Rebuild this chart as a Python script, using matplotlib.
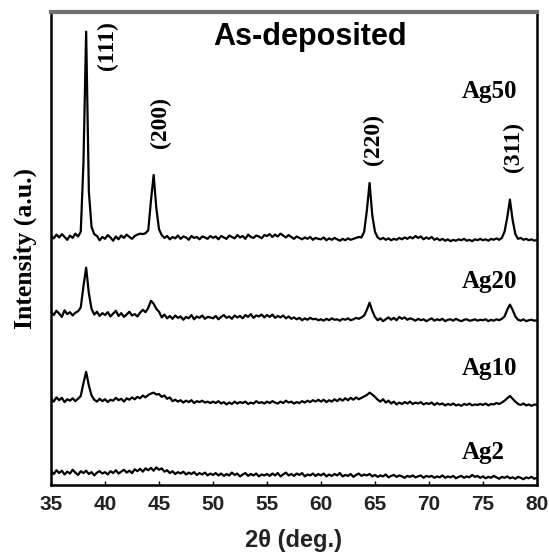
import numpy as np
import matplotlib
matplotlib.use('Agg')
from matplotlib import pyplot

# 2-theta grid, 0.25 deg steps from 35 to 80
two_theta = np.arange(35.0, 80.001, 0.25)

ag50 = [
    52.6, 52.1, 52.9, 52.3, 53.0, 52.4, 51.8, 52.7, 52.2, 53.1, 52.5, 53.5, 68.0, 95.8, 62.0, 54.5, 53.0, 52.6, 51.7, 52.4,
    52.0, 52.8, 52.3, 51.6, 52.5, 51.9, 52.7, 52.2, 52.9, 52.4, 52.0, 52.6, 52.9, 53.1, 53.0, 53.2, 53.8, 60.0, 65.5, 58.5,
    54.0, 52.8, 52.2, 52.6, 51.9, 52.4, 52.1, 52.7, 52.0, 52.5, 52.3, 51.8, 52.6, 52.2, 52.4, 51.9, 52.5, 52.3, 52.0, 52.6,
    52.2, 52.5, 51.9, 52.6, 52.3, 52.0, 52.7, 52.4, 52.1, 52.8, 52.3, 52.6, 52.0, 52.9, 52.4, 52.2, 52.7, 52.5, 52.1, 52.8,
    52.6, 53.0, 52.4, 52.9, 52.5, 53.1, 52.7, 52.3, 52.8, 52.4, 52.0, 52.5, 52.2, 51.9, 52.3, 52.0, 52.4, 51.8, 52.2, 52.0,
    51.9, 52.3, 51.7, 52.1, 51.8, 52.2, 51.9, 51.6, 52.0, 51.7, 52.1, 51.8, 52.0, 52.2, 52.4, 52.3, 53.5, 58.0, 63.8, 57.0,
    53.5, 52.3, 51.9, 52.2, 51.8, 52.1, 51.7, 52.0, 51.8, 52.2, 51.9, 52.3, 52.0, 52.4, 52.1, 52.6, 52.2, 52.5, 51.9, 52.3,
    52.0, 52.4, 51.8, 52.1, 51.7, 52.0, 51.6, 51.9, 51.5, 51.8, 51.6, 51.9, 51.7, 52.0, 51.6, 51.8, 51.5, 51.9, 51.7, 52.0,
    51.7, 51.9, 51.6, 52.0, 51.8, 52.1, 51.8, 52.2, 53.5, 56.5, 60.3, 56.0, 53.0, 52.0, 52.2, 51.8, 52.0, 51.7, 51.9, 51.6,
    51.8]

ag20 = [
    36.6, 35.9, 36.8, 36.2, 35.5, 36.9, 36.1, 36.5, 35.8, 36.4, 36.7, 37.5, 42.0, 45.9, 40.5, 37.2, 36.0, 36.6, 35.7, 36.3,
    35.9, 36.5, 35.6, 36.2, 36.8, 35.7, 36.3, 35.5, 36.0, 36.6, 35.8, 36.1, 35.6, 36.4, 37.0, 36.5, 37.4, 38.9, 38.3, 37.2,
    36.6, 35.4, 36.0, 35.2, 35.7, 35.1, 35.8, 35.3, 35.6, 34.9, 35.5, 35.2, 35.9, 35.0, 35.6, 35.3, 35.8, 35.1, 35.5, 35.4,
    35.2, 35.7, 35.0, 35.5, 35.9, 35.3, 35.6, 35.1, 35.8, 35.4, 35.7, 35.2, 35.9, 35.5, 36.1, 35.3, 35.8, 35.6, 36.0, 35.4,
    35.9, 35.5, 36.0, 35.3, 35.7, 35.4, 35.8, 35.2, 35.6, 35.1, 35.4, 35.0, 35.3, 34.8, 35.2, 34.9, 35.3, 35.0, 35.1, 34.8,
    35.0, 34.7, 35.1, 34.8, 35.2, 34.9, 35.0, 34.7, 35.1, 34.9, 35.2, 34.8, 35.0, 35.3, 35.1, 35.4, 35.8, 37.0, 38.5, 36.8,
    35.5, 34.8, 35.2, 34.6, 35.0, 35.4, 34.9, 35.3, 34.8, 35.5, 35.1, 35.4, 34.9, 35.2, 35.0, 34.7, 35.1, 34.8, 35.0, 34.6,
    34.9, 35.2, 34.7, 35.0, 34.8, 35.1, 34.6, 34.9, 35.0, 34.7, 35.1, 34.8, 34.6, 34.9, 35.0, 34.7, 34.8, 35.0, 34.7, 34.9,
    34.8, 35.0, 34.6, 34.9, 34.7, 35.0, 34.8, 35.1, 35.6, 37.0, 38.1, 37.0, 35.6, 34.9, 34.7, 35.0, 34.6, 34.8, 34.9, 34.7,
    34.8]

ag10 = [
    18.2, 17.6, 18.5, 17.9, 18.4, 17.5, 18.1, 17.8, 18.3, 17.7, 18.2, 18.8, 21.5, 23.9, 21.0, 18.9, 18.0, 17.6, 18.2, 17.7,
    18.1, 17.5, 18.0, 17.8, 18.4, 17.9, 18.2, 17.6, 18.3, 18.0, 18.5, 18.1, 18.6, 18.3, 18.9, 18.5, 19.0, 19.3, 19.5, 19.1,
    19.2, 18.6, 18.9, 18.2, 18.5, 17.7, 18.0, 17.6, 17.9, 17.4, 17.8, 17.5, 17.9, 17.3, 17.7, 17.5, 17.8, 17.4, 17.6, 17.3,
    17.6, 17.3, 17.7, 17.2, 17.5, 17.0, 17.4, 17.1, 17.6, 17.2, 17.5, 17.3, 17.6, 17.1, 17.4, 17.2, 17.7, 17.3, 17.5, 17.2,
    17.6, 17.3, 17.7, 17.4, 17.2, 17.6, 17.3, 17.8, 17.4, 17.6, 17.2, 17.5, 17.3, 17.7, 17.4, 17.8, 17.5, 17.9, 17.6, 18.0,
    17.6, 18.0, 17.5, 17.9, 17.6, 18.1, 17.7, 18.2, 17.8, 18.3, 17.9, 18.4, 18.0, 18.5, 18.1, 18.4, 18.7, 19.0, 19.5, 19.1,
    18.6, 18.0, 17.6, 18.1, 17.4, 17.8, 17.2, 17.6, 17.0, 17.4, 17.1, 17.5, 17.2, 17.6, 17.1, 17.4, 17.2, 17.5, 17.0, 17.3,
    17.1, 17.4, 16.9, 17.3, 17.0, 17.2, 16.8, 17.1, 16.9, 17.2, 16.8, 17.0, 16.7, 17.1, 16.9, 17.2, 16.8, 17.0, 16.9, 17.1,
    16.9, 17.2, 16.8, 17.1, 17.0, 17.3, 17.1, 17.4, 17.8, 18.3, 18.8, 18.2, 17.6, 17.1, 16.9, 17.2, 16.8, 17.0, 16.7, 17.0,
    16.9]

ag2 = [
    2.9, 2.3, 3.1, 2.5, 3.0, 2.2, 2.8, 2.4, 3.2, 2.6, 2.1, 2.9, 2.5, 3.0, 2.3, 2.7, 2.0, 2.6, 2.9, 2.4,
    2.7, 2.2, 2.9, 2.5, 3.1, 2.4, 2.8, 3.2, 2.6, 3.0, 2.5, 3.3, 2.9, 3.4, 2.8, 3.5, 3.1, 3.6, 3.0, 3.7,
    3.2, 3.5, 2.8, 3.1, 2.5, 2.9, 2.3, 2.7, 2.4, 2.8, 2.2, 2.6, 2.3, 2.7, 2.1, 2.5, 2.2, 2.6, 2.0, 2.4,
    2.1, 2.5, 2.0, 2.4, 1.9, 2.3, 2.0, 2.6, 2.1, 2.4, 1.8, 2.2, 2.5, 1.9, 2.3, 2.0, 2.4, 1.8, 2.2, 2.0,
    2.3, 1.9, 2.4, 2.0, 2.5, 1.8, 2.2, 2.6, 2.0, 2.3, 1.9, 2.4, 2.1, 2.5, 1.8, 2.2, 2.0, 2.4, 1.9, 2.3,
    2.0, 2.4, 1.8, 2.2, 1.9, 2.3, 2.0, 2.5, 1.8, 2.1, 1.9, 2.3, 1.7, 2.1, 2.4, 1.9, 2.2, 2.0, 2.3, 1.8,
    2.1, 1.7, 2.0, 1.8, 2.2, 1.6, 1.9, 2.1, 1.7, 2.0, 1.8, 1.5, 1.9, 1.7, 2.0, 1.6, 1.8, 2.0, 1.5, 1.9,
    1.7, 1.9, 1.5, 1.8, 1.6, 2.0, 1.5, 1.8, 1.6, 1.9, 1.4, 1.7, 1.9, 1.5, 1.8, 1.6, 2.1, 1.7, 1.9, 1.5,
    1.8, 1.4, 1.7, 1.5, 1.9, 1.6, 1.3, 1.7, 1.5, 1.8, 1.4, 1.6, 1.3, 1.7, 1.5, 1.2, 1.6, 1.4, 1.7, 1.3,
    1.5]

samples = ['Ag50', 'Ag20', 'Ag10', 'Ag2']
sample_label_y = [83.1, 42.9, 24.5, 6.8]

peaks = ['(111)', '(200)', '(220)', '(311)']
peak_label_x = [40.2, 45.1, 64.9, 77.8]
peak_label_y = [92.8, 76.5, 72.9, 71.5]

xticks = [35, 40, 45, 50, 55, 60, 65, 70, 75, 80]

fig = pyplot.figure(figsize=(5.49, 5.58), dpi=100)
ax = fig.add_axes([0.093, 0.131, 0.885, 0.848])

for y in [ag50, ag20, ag10, ag2]:
    ax.plot(two_theta, y, color='black', lw=1.6)

ax.set_xlim(35, 80)
ax.set_ylim(0, 100)
ax.set_xticks(xticks)
ax.set_yticks([])
ax.tick_params(axis='x', direction='in', length=3, width=1, pad=7)
for lab in ax.get_xticklabels():
    lab.set_family('Liberation Sans')
    lab.set_fontweight('bold')
    lab.set_fontsize(15)
    lab.set_color('#222222')

for side in ['left', 'bottom', 'right']:
    ax.spines[side].set_linewidth(1.8)
    ax.spines[side].set_color('black')
ax.spines['top'].set_linewidth(3.0)
ax.spines['top'].set_color('#707070')

serif = dict(family='Liberation Serif', fontweight='bold')
for name, yy in zip(samples, sample_label_y):
    ax.text(73.0, yy, name, ha='left', va='center', fontsize=18, **serif)
for name, xx, yy in zip(peaks, peak_label_x, peak_label_y):
    ax.text(xx, yy, name, ha='center', va='center', rotation=90, fontsize=17, **serif)

ax.text(0.533, 0.946, 'As-deposited', transform=ax.transAxes, ha='center', va='center',
        family='Liberation Sans', fontweight='bold', fontsize=22)
ax.set_xlabel('2θ (deg.)', family='Liberation Sans', fontweight='bold', fontsize=17,
              labelpad=11, color='#222222')
ax.set_ylabel('Intensity (a.u.)', fontsize=18.5, labelpad=10, **serif)

fig.savefig('out.png', dpi=100)
